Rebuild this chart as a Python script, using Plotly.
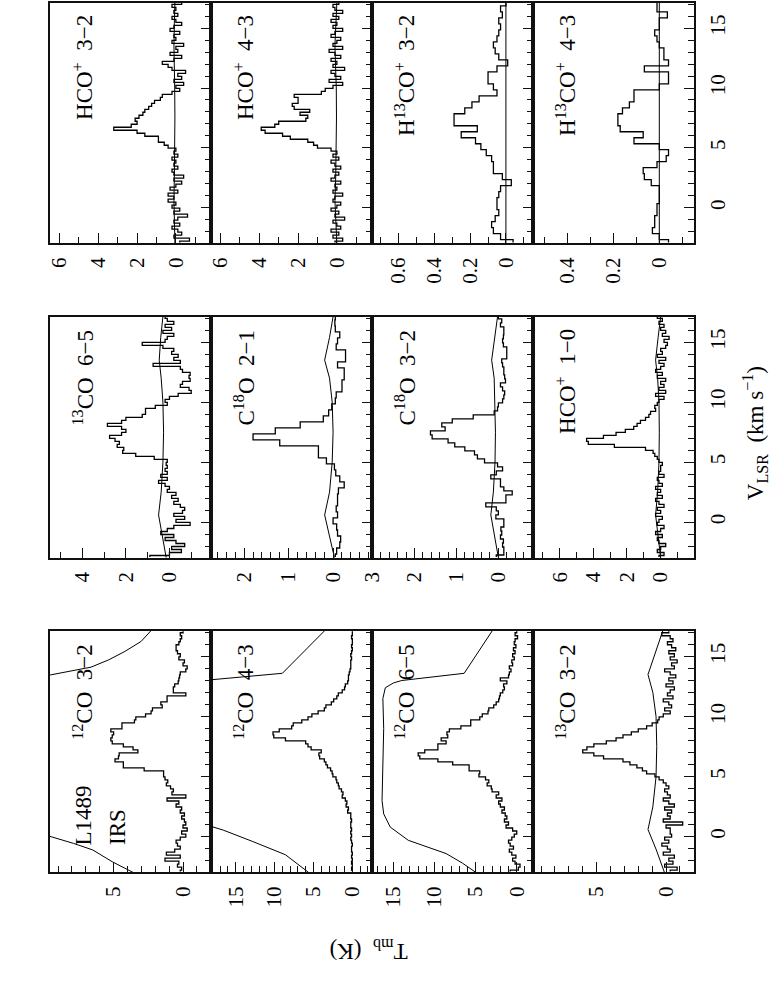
import numpy as np
import plotly.graph_objects as go

W, H = 771, 981
FONT = "Liberation Serif"

# ---------------- data ----------------
# channel grids (km/s): start velocity and channel width per spectrum
V_START = -2.9
DV_FINE = 0.25
DV_HALF = 0.5
DV_THIRD = 1.0 / 3.0

# HCO+ 3-2
hco32 = [-0.2, -0.7, 0.1, -0.3, -0.1, 0.2, -0.2, 0.1, -0.1, -0.6,
         0.1, -0.2, 0.2, 0.0, 0.4, 0.1, 0.4, -0.1, 0.3, 0.0,
         -0.3, 0.1, -0.4, 0.1, 0.2, -0.1, 0.1, 0.0, 0.2, -0.1,
         0.1, 0.0, 0.4, 0.6, 0.9, 0.9, 1.6, 2.0, 3.2, 2.3,
         2.0, 2.1, 1.9, 1.7, 1.6, 1.4, 1.25, 1.1, 0.8, 0.7,
         0.2, -0.2, 0.0, -0.4, 0.1, -0.3, -0.1, -0.5, 0.2, 0.4,
         0.7, 0.1, -0.3, 0.3, -0.1, 0.0, -0.4, 0.2, 0.0, 0.1,
         -0.2, 0.3, 0.1, -0.3, 0.0, 0.2, -0.1, 0.1, 0.0, 0.2, -0.3]
# HCO+ 4-3
hco43 = [0.1, -0.3, 0.2, -0.1, 0.3, -0.2, 0.0, 0.2, -0.4, 0.1,
         -0.1, 0.3, 0.0, -0.2, 0.2, 0.1, -0.3, 0.2, 0.0, 0.1,
         -0.2, 0.3, 0.1, -0.1, 0.2, -0.2, 0.1, 0.3, -0.1, 0.2,
         0.0, 0.3, 1.0, 1.2, 1.5, 2.4, 2.8, 3.7, 3.9, 3.2,
         3.0, 1.6, 1.5, 1.9, 1.4, 2.2, 2.3, 2.0, 2.0, 2.2,
         0.8, 0.6, 0.2, -0.3, 0.4, -0.2, 0.1, 0.3, -0.4, 0.2,
         0.0, 0.3, -0.2, 0.1, 0.4, -0.3, 0.2, 0.0, -0.2, 0.3,
         0.1, -0.3, 0.2, 0.0, 0.3, -0.1, 0.2, -0.3, 0.1, 0.2, -0.1]
# H13CO+ 3-2
h13co32 = [-0.04, 0.03, 0.07, 0.08, 0.06, 0.04, 0.05, 0.05, 0.04, 0.03,
           -0.03, 0.02, 0.07, 0.07, 0.08, 0.11, 0.14, 0.17, 0.25, 0.16,
           0.29, 0.29, 0.23, 0.19, 0.15, 0.05, 0.07, 0.10, 0.10, 0.05,
           -0.01, 0.04, 0.06, 0.07, 0.05, 0.04, 0.03, 0.04, 0.02, 0.03, 0.0]
# H13CO+ 4-3
h13co43 = [-0.04, 0.0, 0.03, 0.02, 0.02, 0.01, 0.01, 0.0, 0.0, 0.0,
           0.035, 0.065, 0.07, 0.01, -0.03, -0.04, 0.0, 0.11, 0.07, 0.17,
           0.18, 0.18, 0.16, 0.13, 0.11, 0.11, 0.0, -0.04, -0.04, 0.065,
           -0.04, -0.02, -0.02, 0.0, 0.01, 0.02, 0.0, 0.0, -0.035, 0.01, 0.01]
# 13CO 6-5
co13_65 = [0.9, 0.0, -0.55, -0.1, -0.7, -0.3, 0.2, -0.2, 0.4, 0.1,
           -0.2, -0.95, -0.3, -0.7, -0.2, -0.6, -0.7, -0.5, -0.2, -0.4,
           -0.1, -0.3, 0.1, 0.0, 0.2, 0.5, 0.1, 0.4, 0.1, 0.2,
           0.1, 0.15, 0.1, 0.7, 1.55, 2.15, 2.1, 2.4, 2.3, 2.5,
           2.75, 2.2, 2.0, 2.2, 2.85, 2.2, 2.0, 1.25, 1.1, 1.1,
           0.65, 0.1, 0.2, 0.0, -0.4, -1.0, -0.9, -0.5, -0.6, -0.95,
           -0.9, -0.95, -0.6, -0.5, 0.75, -0.5, -0.2, -0.4, -0.1, -0.2,
           0.3, 1.25, 0.2, 0.1, -0.2, 0.3, -0.1, 0.2, -0.2, 0.1, 0.2]
# C18O 2-1
c18o21 = [-0.05, -0.08, -0.15, -0.17, -0.1, -0.08, 0.0, -0.1, -0.07, -0.1,
          -0.1, -0.12, -0.25, -0.15, -0.06, -0.03, 0.15, 0.33, 0.33, 1.2,
          1.8, 1.3, 0.74, 0.22, 0.1, 0.03, -0.05, -0.07, -0.2, -0.2,
          -0.25, -0.25, -0.1, -0.28, -0.28, -0.07, -0.1, -0.15, -0.05, -0.04, -0.05]
# C18O 3-2
c18o32 = [0.05, -0.13, -0.13, -0.1, -0.12, -0.05, -0.08, -0.06, -0.13, -0.13,
          0.06, 0.0, 0.05, 0.3, -0.18, -0.18, -0.33, -0.13, -0.05, -0.05,
          0.18, 0.05, -0.1, 0.02, 0.33, 0.5, 0.57, 0.8, 1.04, 1.2,
          1.58, 1.62, 1.27, 1.35, 1.1, 0.6, 0.1, 0.02, 0.0, -0.1,
          -0.13, -0.15, -0.1, -0.05, -0.17, -0.15, -0.13, -0.13, -0.1, -0.08,
          -0.2, -0.2, -0.2, -0.12, -0.1, -0.12, -0.13, -0.13, -0.05, -0.08, 0.0]
# HCO+ 1-0
hco10 = [0.1, -0.2, 0.2, 0.0, -0.3, 0.1, 0.2, -0.1, 0.3, 0.0,
         -0.2, 0.2, 0.1, -0.1, 0.3, 0.0, 0.2, -0.2, 0.1, 0.3,
         -0.1, 0.2, 0.0, 0.3, -0.1, 0.1, 0.2, -0.2, 0.1, 0.0,
         0.0, -0.1, 0.1, 0.2, 0.35, 0.45, 0.9, 2.75, 4.3, 4.4,
         3.4, 2.65, 2.1, 1.6, 1.4, 1.2, 0.9, 0.7, 0.6, 0.3,
         0.35, 0.2, 0.1, -0.2, 0.3, -0.3, 0.1, -0.2, 0.0, -0.3,
         0.2, -0.1, 0.3, 0.0, -0.2, 0.1, -0.3, 0.2, -0.1, 0.0,
         -0.3, -0.4, -0.2, -0.5, -0.1, -0.3, 0.0, -0.2, 0.1, -0.1, 0.2]
# 12CO 3-2
co12_32 = [0.2, 0.1, 0.4, 0.3, 1.3, 0.2, 1.2, 0.6, 0.2, 0.4,
           0.5, 0.2, -0.2, 0.1, -0.3, 0.0, -0.2, -0.1, 0.1, -0.1,
           0.2, 0.1, 0.5, 0.3, 1.15, -0.2, 0.8, 0.7, 0.9, 1.2,
           1.1, 1.3, 1.4, 1.4, 2.8, 4.3, 4.3, 4.9, 4.65, 4.6,
           3.25, 3.6, 4.3, 5.1, 5.2, 5.1, 5.0, 5.2, 4.4, 4.4,
           3.5, 3.4, 2.7, 2.3, 2.2, 1.5, 1.6, 1.15, 1.15, -0.2,
           0.7, 0.7, 0.6, 0.35, 0.3, 0.25, 0.2, -0.2, -0.3, 0.0,
           -0.1, 0.3, 0.2, 0.4, 0.5, 0.5, 0.3, 0.2, 0.1, 0.2, 0.0]
# 12CO 4-3
co12_43 = [0.0, 0.1, 0.0, 0.1, 0.0, 0.1, 0.0, 0.1, 0.1, 0.0,
           0.1, 0.2, 0.1, 0.2, 0.1, 0.2, 0.2, 0.1, 0.2, 0.2,
           0.6, 0.5, 0.8, 0.7, 0.9, 1.3, 1.2, 1.4, 1.7, 1.8,
           2.0, 2.1, 2.5, 2.6, 2.8, 3.2, 3.4, 3.6, 4.2, 4.3,
           4.0, 5.3, 5.7, 6.0, 8.6, 10.1, 10.2, 9.4, 7.8, 7.6,
           6.5, 5.7, 5.2, 4.4, 3.6, 3.4, 2.7, 2.4, 2.0, 1.8,
           1.3, 1.0, 0.9, 0.6, 0.5, 0.5, 0.4, 0.3, 0.2, 0.2,
           0.2, 0.1, 0.2, 0.1, 0.0, 0.1, 0.0, 0.0, 0.1, 0.0, 0.0]
# 12CO 6-5
co12_65 = [0.8, -0.2, -0.4, 0.2, 0.5, 0.1, 0.6, 0.9, 0.4, 0.8,
           1.0, 0.6, 0.3, 0.0, 0.5, 1.3, 1.0, 1.5, 1.2, 1.4,
           1.8, 1.5, 2.0, 2.2, 1.8, 2.5, 2.2, 3.0, 3.1, 3.6,
           3.4, 3.8, 4.6, 4.5, 5.8, 5.8, 7.8, 9.6, 11.8, 12.0,
           11.2, 9.6, 9.6, 8.6, 9.2, 8.4, 8.5, 8.2, 6.8, 5.6,
           5.6, 4.5, 4.2, 3.5, 3.4, 2.8, 2.5, 2.2, 2.1, 2.0,
           1.7, 1.5, 1.6, 1.2, 2.0, 1.0, 0.9, 0.7, 0.9, 0.5,
           0.6, 0.3, 0.5, 0.2, 0.4, 0.1, 0.3, 0.2, -0.1, 0.2, 0.0]
# 13CO 3-2
co13_32 = [-0.3, -0.8, 0.1, -0.5, -0.2, -0.6, 0.2, -0.3, -0.1, 0.3,
           -0.2, 0.1, -0.4, -0.3, -0.3, 0.0, -1.2, 0.2, -0.3, -0.1,
           -0.4, 0.1, -0.6, -0.2, 0.2, -0.3, -0.1, 0.1, -0.2, 0.0,
           0.2, 0.5, 0.8, 1.4, 1.7, 2.1, 2.6, 3.1, 4.5, 5.2,
           6.0, 5.7, 5.2, 4.3, 3.6, 3.1, 2.5, 2.0, 1.4, 1.0,
           0.6, 0.5, 0.2, -0.3, 0.1, -0.4, -0.2, 0.2, -0.5, -0.1,
           -0.3, -0.6, 0.0, -0.5, -0.2, -0.7, -0.3, 0.1, -0.6, -0.4,
           -0.8, -0.3, -0.6, -0.2, -0.7, -0.4, -0.1, -0.5, -0.3, 0.3, -0.2]

# smooth model / reference curves
model_v = [-2.96, -1.1, 0.6, 2.5, 5.0, 7.5, 10.0, 12.0, 13.5, 15.4, 17.12]
model_hco32 = [0.05, 0.08, 0.1, 0.08, 0.06, 0.05, 0.06, 0.08, 0.1, 0.08, 0.05]
model_hco43 = [0.0, 0.05, 0.1, 0.06, 0.03, 0.02, 0.03, 0.06, 0.1, 0.05, 0.0]
model_h13co32 = [0.0] * 11
model_h13co43 = [0.0] * 11
model_co13_65 = [0.15, 0.35, 0.5, 0.38, 0.3, 0.27, 0.3, 0.38, 0.47, 0.4, 0.3]
model_c18o21 = [-0.03, 0.08, 0.19, 0.08, 0.02, 0.0, 0.02, 0.08, 0.19, 0.08, 0.0]
model_c18o32 = [0.0, 0.1, 0.18, 0.12, 0.08, 0.07, 0.08, 0.1, 0.16, 0.08, 0.02]
model_hco10 = [0.0, 0.15, 0.3, 0.18, 0.1, 0.08, 0.1, 0.18, 0.3, 0.15, 0.0]
model_co13_32 = [0.12, 0.7, 1.3, 0.95, 0.72, 0.67, 0.72, 0.95, 1.3, 0.75, 0.24]

model_co12_32_v = [-2.97, -2.08, -1.1, -0.55, 0.0, 0.5, 2.0, 12.0, 13.2, 13.47, 14.11, 14.72, 15.42, 16.25, 17.12]
model_co12_32_t = [3.6, 5.1, 6.5, 7.9, 9.5, 11.0, 13.0, 13.0, 11.5, 9.53, 6.63, 5.35, 4.19, 3.02, 2.33]
model_co12_43_v = [-2.96, -1.5, -0.4, 0.55, 0.85, 1.5, 12.5, 13.06, 13.6, 17.12]
model_co12_43_t = [5.65, 8.6, 12.8, 16.6, 18.1, 21.0, 21.0, 18.2, 9.0, 3.6]
model_co12_65_v = [-2.96, -2.2, -1.4, -0.3, 0.8, 1.9, 3.0, 6.0, 9.0, 11.5, 12.4, 12.8, 13.0, 13.6, 17.12]
model_co12_65_t = [5.0, 6.6, 8.6, 13.2, 15.4, 16.2, 16.4, 16.3, 16.2, 16.3, 16.0, 15.0, 14.0, 6.4, 3.0]

labels = {
    "hco32": "HCO<sup>+</sup>\u00a0\u00a03\u22122",
    "hco43": "HCO<sup>+</sup>\u00a0\u00a04\u22123",
    "h13co32": "H<sup>13</sup>CO<sup>+</sup>\u00a0\u00a03\u22122",
    "h13co43": "H<sup>13</sup>CO<sup>+</sup>\u00a0\u00a04\u22123",
    "co13_65": "<sup>13</sup>CO\u00a0\u00a06\u22125",
    "c18o21": "C<sup>18</sup>O\u00a0\u00a02\u22121",
    "c18o32": "C<sup>18</sup>O\u00a0\u00a03\u22122",
    "hco10": "HCO<sup>+</sup>\u00a0\u00a01\u22120",
    "co12_32": "<sup>12</sup>CO\u00a0\u00a03\u22122",
    "co12_43": "<sup>12</sup>CO\u00a0\u00a04\u22123",
    "co12_65": "<sup>12</sup>CO\u00a0\u00a06\u22125",
    "co13_32": "<sup>13</sup>CO\u00a0\u00a03\u22122",
}

# ---------------- layout ----------------
COLS = [39.3, 202.7, 366.0, 529.3, 692.7]
ROWS = {"A": (2.7, 243.3), "B": (316.7, 557.7), "C": (631.0, 872.3)}
VRANGE = [-2.96, 17.12]

panels = [
    ("A", 0, "hco32", hco32, DV_FINE, (-1.8, 6.5), 2, 1, model_v, model_hco32),
    ("A", 1, "hco43", hco43, DV_FINE, (-1.8, 6.5), 2, 1, model_v, model_hco43),
    ("A", 2, "h13co32", h13co32, DV_HALF, (-0.15, 0.75), 0.2, 0.1, model_v, model_h13co32),
    ("A", 3, "h13co43", h13co43, DV_HALF, (-0.15, 0.55), 0.2, 0.1, model_v, model_h13co43),
    ("B", 0, "co13_65", co13_65, DV_FINE, (-1.9, 5.5), 2, 1, model_v, model_co13_65),
    ("B", 1, "c18o21", c18o21, DV_HALF, (-0.87, 2.75), 1, 0.2, model_v, model_c18o21),
    ("B", 2, "c18o32", c18o32, DV_THIRD, (-0.82, 3.02), 1, 0.2, model_v, model_c18o32),
    ("B", 3, "hco10", hco10, DV_FINE, (-1.97, 7.6), 2, 1, model_v, model_hco10),
    ("C", 0, "co12_32", co12_32, DV_FINE, (-2.0, 9.6), 5, 1, model_co12_32_v, model_co12_32_t),
    ("C", 1, "co12_43", co12_43, DV_FINE, (-2.5, 18.2), 5, 1, model_co12_43_v, model_co12_43_t),
    ("C", 2, "co12_65", co12_65, DV_FINE, (-1.95, 17.65), 5, 1, model_co12_65_v, model_co12_65_t),
    ("C", 3, "co13_32", co13_32, DV_FINE, (-2.0, 9.6), 5, 1, model_v, model_co13_32),
]

fig = go.Figure()
layout = dict(width=W, height=H, margin=dict(l=0, r=0, t=0, b=0), autosize=False,
              paper_bgcolor="white", plot_bgcolor="white", showlegend=False,
              annotations=[])

tickfont = dict(family=FONT, size=21, color="black")
lblfont = dict(family=FONT, size=23, color="black")

for i, (blk, col, key, vals, dv, trange, dtick, mdtick, mv, mt) in enumerate(panels):
    n = i + 1
    xa = "xaxis" if n == 1 else f"xaxis{n}"
    ya = "yaxis" if n == 1 else f"yaxis{n}"
    xr = "x" if n == 1 else f"x{n}"
    yr = "y" if n == 1 else f"y{n}"
    top, bot = ROWS[blk]
    layout[xa] = dict(
        domain=[COLS[col] / W, COLS[col + 1] / W], anchor=yr,
        range=[trange[1], trange[0]], side="bottom",
        showline=True, mirror=True, linecolor="#111111", linewidth=1.8,
        ticks="inside", ticklen=10, tickwidth=1.2, tickcolor="#111111",
        tickmode="linear", tick0=0, dtick=dtick, tickangle=-90,
        tickfont=tickfont, ticklabelstandoff=4,
        minor=dict(ticks="inside", ticklen=6, tickwidth=1.2, tickcolor="#111111",
                   tick0=0, dtick=mdtick, showgrid=False),
        showgrid=False, zeroline=False)
    layout[ya] = dict(
        domain=[1 - bot / H, 1 - top / H], anchor=xr, side="right",
        range=VRANGE,
        showline=True, mirror=True, linecolor="#111111", linewidth=1.8,
        ticks="inside", ticklen=10, tickwidth=1.2, tickcolor="#111111",
        tickmode="linear", tick0=0, dtick=5, tickangle=-90,
        tickfont=tickfont, showticklabels=(col == 3), ticklabelstandoff=4,
        minor=dict(ticks="inside", ticklen=6, tickwidth=1.2, tickcolor="#111111",
                   tick0=0, dtick=1, showgrid=False),
        showgrid=False, zeroline=False)

    v = V_START + dv * np.arange(len(vals))
    fig.add_trace(go.Scatter(x=mt, y=mv, xaxis=xr, yaxis=yr, mode="lines",
                             line=dict(color="black", width=1.0),
                             hoverinfo="skip"))
    fig.add_trace(go.Scatter(x=vals, y=v, xaxis=xr, yaxis=yr, mode="lines",
                             line=dict(color="black", width=1.3, shape="vhv")))

    layout["annotations"].append(dict(
        text=labels[key], xref="paper", yref="paper",
        x=(COLS[col] + 34) / W, y=1 - (top + 10.5) / H,
        xanchor="center", yanchor="top", textangle=-90,
        showarrow=False, font=lblfont))

# source name
layout["annotations"].append(dict(
    text="L1489", xref="paper", yref="paper", x=73.5 / W, y=1 - 847 / H,
    xanchor="center", yanchor="bottom", textangle=-90, showarrow=False, font=lblfont))
layout["annotations"].append(dict(
    text="IRS", xref="paper", yref="paper", x=107.5 / W, y=1 - 847 / H,
    xanchor="center", yanchor="bottom", textangle=-90, showarrow=False, font=lblfont))

# axis titles
layout["annotations"].append(dict(
    text="T<sub>mb</sub>\u00a0\u00a0(K)", xref="paper", yref="paper",
    x=363 / W, y=1 - 950 / H, xanchor="center", yanchor="middle",
    textangle=180, showarrow=False, font=lblfont))
layout["annotations"].append(dict(
    text="V<sub>LSR</sub>\u00a0\u00a0(km\u00a0s<sup>\u22121</sup>)", xref="paper", yref="paper",
    x=754 / W, y=1 - 433 / H, xanchor="center", yanchor="middle",
    textangle=-90, showarrow=False, font=lblfont))

fig.update_layout(**layout)
fig.write_html("out.html",
               config={"displayModeBar": False},
               post_script="document.body.style.margin='0px';"
                           "document.body.style.padding='0px';"
                           "document.body.style.overflow='hidden';")
